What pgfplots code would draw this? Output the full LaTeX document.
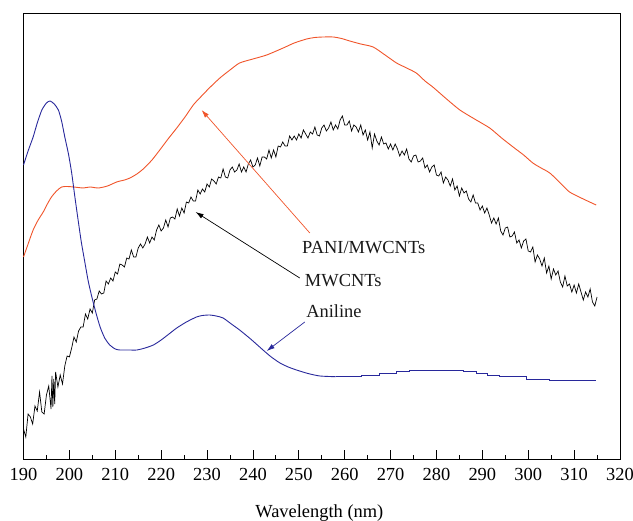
\documentclass[border=0pt]{standalone}
\usepackage{pgfplots}
\pgfplotsset{compat=1.18}
\usepackage{fontspec}
\setmainfont{Liberation Serif}
\usetikzlibrary{arrows.meta}
\definecolor{pred}{RGB}{240,84,42}
\definecolor{pblue}{RGB}{40,40,155}
\begin{document}
\begin{tikzpicture}
\useasboundingbox (0,0) rectangle (633bp,521bp);
\begin{axis}[
  at={(23.5bp,62bp)}, anchor=south west,
  scale only axis, width=596.5bp, height=446bp,
  xmin=190, xmax=320, ymin=0, ymax=446,
  xtick={190,200,...,320},
  minor xtick={195,205,...,315},
  ytick=\empty,
  minor ytick={15,30,...,435},
  tick align=inside,
  xtick pos=bottom, ytick pos=left,
  major tick length=9bp, minor tick length=4bp,
  axis line style={line width=0.9bp},
  every tick/.style={black, line width=0.8bp},
  tick label style={font=\fontsize{18.5}{22}\selectfont},
  /pgf/number format/assume math mode=true,
  xticklabel style={yshift=-6bp},
  clip=false,
]
\addplot[black, line width=0.7bp] coordinates {
(190.0,30)(190.5,22)(191.0,45)(191.5,42)(192.0,35)(192.5,53)(193.0,48)(193.5,67)(194.0,47)(194.5,45)
(195.0,64)(195.5,73)(196.0,50)(196.2,83)(196.4,52)(196.6,80)(196.8,55)(197.0,87)(197.5,72)(198.0,84)(198.5,75)(199.0,93)(199.5,103)
(200.0,102)(200.5,111)(201.0,122)(201.5,117)(202.0,128)(202.5,132)(203.0,132)(203.5,145)(204.0,140)(204.5,150)
(205.0,146)(205.5,159)(206.0,160)(206.5,168)(207.0,165)(207.5,166)(208.0,178)(208.5,175)(209.0,181)(209.5,178)
(210.0,187)(210.5,185)(211.0,195)(211.5,194)(212.0,192)(212.5,201)(213.0,200)(213.5,209)(214.0,202)(214.5,202)
(215.0,211)(215.5,215)(216.0,211)(216.5,215)(217.0,222)(217.5,216)(218.0,222)(218.5,219)(219.0,229)(219.5,234)
(220.0,228)(220.5,231)(221.0,239)(221.5,232)(222.0,241)(222.5,242)(223.0,240)(223.5,250)(224.0,243)(224.5,251)
(225.0,246)(225.5,257)(226.0,256)(226.5,262)(227.0,258)(227.5,258)(228.0,269)(228.5,265)(229.0,270)(229.5,267)
(230.0,275)(230.5,272)(231.0,280)(231.5,278)(232.0,275)(232.5,282)(233.0,281)(233.5,290)(234.0,282)(234.5,281)
(235.0,289)(235.5,292)(236.0,287)(236.5,289)(237.0,295)(237.5,287)(238.0,292)(238.5,287)(239.0,295)(239.5,299)
(240.0,292)(240.5,294)(241.0,301)(241.5,293)(242.0,302)(242.5,302)(243.0,300)(243.5,309)(244.0,301)(244.5,309)
(245.0,302)(245.5,313)(246.0,312)(246.5,317)(247.0,313)(247.5,313)(248.0,323)(248.5,319)(249.0,323)(249.5,319)
(250.0,325)(250.5,321)(251.0,329)(251.5,325)(252.0,321)(252.5,327)(253.0,325)(253.5,332)(254.0,324)(254.5,323)
(255.0,331)(255.5,334)(256.0,328)(256.5,331)(257.0,337)(257.5,329)(258.0,334)(258.5,330)(259.0,339)(259.5,343)
(260.0,334)(260.5,334)(261.0,338)(261.5,328)(262.0,334)(262.5,332)(263.0,327)(263.5,334)(264.0,324)(264.5,329)
(265.0,319)(265.5,327)(266.0,311)(266.5,325)(267.0,318)(267.5,314)(268.0,322)(268.5,315)(269.0,316)(269.5,310)
(270.0,315)(270.5,309)(271.0,315)(271.5,310)(272.0,303)(272.5,308)(273.0,304)(273.5,310)(274.0,300)(274.5,297)
(275.0,303)(275.5,304)(276.0,297)(276.5,298)(277.0,301)(277.5,291)(278.0,294)(278.5,287)(279.0,292)(279.5,294)
(280.0,284)(280.5,283)(281.0,287)(281.5,276)(282.0,282)(282.5,279)(283.0,273)(283.5,280)(284.0,269)(284.5,273)
(285.0,263)(285.5,271)(286.0,266)(286.5,268)(287.0,260)(287.5,257)(288.0,264)(288.5,256)(289.0,256)(289.5,249)
(290.0,253)(290.5,246)(291.0,251)(291.5,244)(292.0,236)(292.5,241)(293.0,235)(293.5,241)(294.0,228)(294.5,224)
(295.0,231)(295.5,232)(296.0,222)(296.5,223)(297.0,227)(297.5,216)(298.0,219)(298.5,211)(299.0,218)(299.5,220)
(300.0,208)(300.5,207)(301.0,212)(301.5,197)(302.0,204)(302.5,200)(303.0,193)(303.5,201)(304.0,186)(304.5,193)
(305.0,180)(305.5,190)(306.0,184)(306.5,188)(307.0,177)(307.5,172)(308.0,183)(308.5,173)(309.0,175)(309.5,167)
(310.0,174)(310.5,166)(311.0,175)(311.5,167)(312.0,159)(312.5,167)(313.0,162)(313.5,170)(314.0,157)(314.5,153)
(315.0,162)
};
\addplot[pred, line width=0.9bp, smooth, tension=0.4] coordinates {
(190.0,202)(191.0,215)(192.1,229)(193.2,239)(194.3,247)(195.2,255)(196.1,262)(197.2,268)(198.3,272)(199.5,272.5)
(201.0,272)(203.0,271)(204.5,272)(206.3,271)(208.3,273)(210.3,277)(212.0,279)(213.2,281)(214.7,285)(216.1,290)
(218.0,299)(219.7,309)(221.5,320)(223.4,331)(225.2,342)(227.0,354)(228.4,361)(230.5,371)(232.8,381)(235.0,389)
(237.1,396)(240.0,400)(243.0,404)(246.6,411)(249.0,416)(251.7,420)(253.5,421.5)(255.3,422)(257.5,422)(259.3,420.5)
(261.1,418)(263.5,415)(266.2,412)(268.8,404)(271.3,396)(273.5,391)(275.6,386)(277.5,378)(279.2,372)(282.2,360)
(285.1,349)(288.3,340)(291.6,331)(294.2,321)(296.7,312)(299.0,304)(301.0,296)(302.8,291)(304.7,286)(307.0,276)
(309.0,267)(312.0,260)(314.8,254)
};
\addplot[pblue, line width=0.9bp, smooth, tension=0.4] coordinates {
(190.0,294)(191.0,308)(192.1,322)(193.0,336)(194.0,349)(195.0,356)(195.8,358)(196.7,355)(197.6,349)(198.3,338)
(199.0,322)(199.8,305)(200.5,286)(201.2,262)(201.9,239)(202.6,217)(203.4,196)(204.1,178)(204.9,162)(205.8,146)
(206.7,132)(207.7,121)(208.8,114)(210.0,110)(211.0,109)(213.0,109)(214.7,109)(216.5,111)(218.3,114)(220.0,119)
(221.7,125)(223.4,131)(225.5,137)(227.7,142)(229.0,143.5)(230.6,144)(232.0,143)(233.5,141)(235.3,135)(237.1,129)
(239.5,120)(242.2,109)(244.0,102)(245.9,96)(247.7,92)(249.5,89)(252.0,85.5)(254.6,83)(258.0,82.3)
};
\addplot[pblue, line width=0.9bp] coordinates {
(258.0,82.3)(263.6,82.3)
(263.6,83.7)(267.6,83.7)(267.6,85.7)(271.3,85.7)(271.3,87.7)(274.2,87.7)(274.2,88.7)(285.8,88.7)(285.8,87.3)(288.7,87.3)
(288.7,85.7)(291.2,85.7)(291.2,84)(293.8,84)(293.8,82.3)(299.6,82.3)(299.6,80)(304.7,80)(304.7,78.3)(314.8,78.3)
};
\draw[pred, line width=0.7bp, -{Latex[length=8bp,width=5bp]}] (axis cs:252.4,226) -- (axis cs:228.8,349);
\draw[black, line width=0.7bp, -{Latex[length=8bp,width=5bp]}] (axis cs:250.2,181) -- (axis cs:227.5,247);
\draw[pblue, line width=0.7bp, -{Latex[length=8bp,width=5bp]}] (axis cs:251.3,137) -- (axis cs:243.0,108);
\node[anchor=west, inner sep=0pt, font=\fontsize{18.5}{22}\selectfont, text=black!90] at (axis cs:250.7,211) {PANI/MWCNTs};
\node[anchor=west, inner sep=0pt, font=\fontsize{18.5}{22}\selectfont, text=black!90] at (axis cs:251.3,178) {MWCNTs};
\node[anchor=west, inner sep=0pt, font=\fontsize{18.5}{22}\selectfont, text=black!90] at (axis cs:251.6,148) {Aniline};
\node[anchor=base, inner sep=0pt, font=\fontsize{18.5}{22}\selectfont] at (rel axis cs:0.496,0) [yshift=-58bp] {Wavelength (nm)};
\end{axis}
\end{tikzpicture}
\end{document}
